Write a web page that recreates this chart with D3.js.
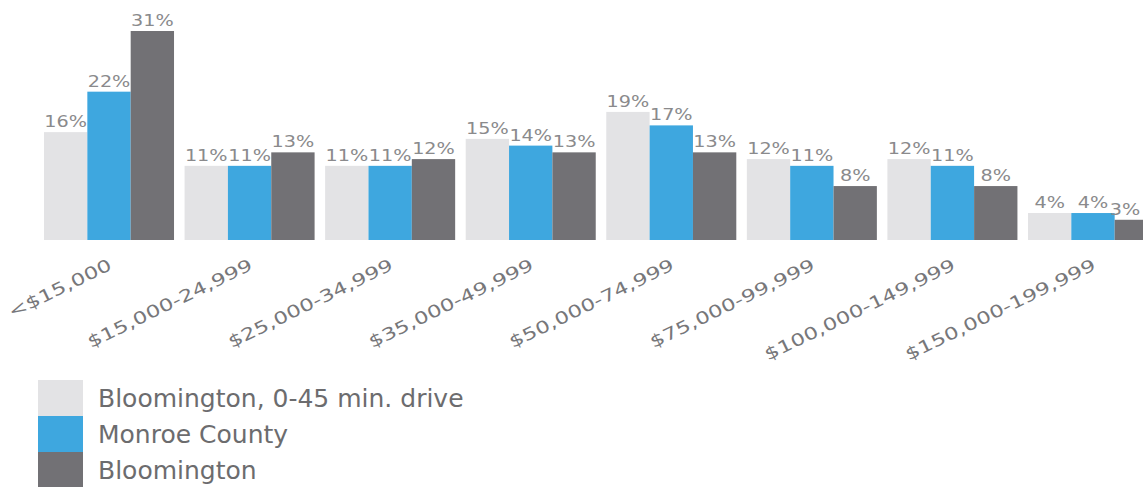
<!DOCTYPE html>
<html>
<head>
<meta charset="utf-8">
<script src="https://cdn.jsdelivr.net/npm/d3@7"></script>
<style>
  html, body { margin: 0; padding: 0; background: #ffffff; }
  svg { display: block; }
  text { font-family: "DejaVu Sans", sans-serif; }
</style>
</head>
<body>
<svg id="chart" width="1143" height="487"></svg>
<script>
// Household income brackets
const categories = [
  "<$15,000", "$15,000-24,999", "$25,000-34,999", "$35,000-49,999",
  "$50,000-74,999", "$75,000-99,999", "$100,000-149,999", "$150,000-199,999"
];

// Series names (legend order)
const seriesNames = ["Bloomington, 0-45 min. drive", "Monroe County", "Bloomington"];

// Share of households (%) per bracket
const drive45 = [16, 11, 11, 15, 19, 12, 12, 4];
const monroe = [22, 11, 11, 14, 17, 11, 11, 4];
const bloomington = [31, 13, 12, 13, 13, 8, 8, 3];

const seriesValues = [drive45, monroe, bloomington];
const colors = ["#e3e3e5", "#3ea7df", "#727175"];

const width = 1143;
const svg = d3.select("#chart");

const x = d3.scaleBand()
  .domain(categories)
  .range([44, 1158])
  .paddingInner(0.075)
  .paddingOuter(0);

const xs = d3.scaleBand()
  .domain(seriesNames)
  .range([0, x.bandwidth()])
  .padding(0);

const y = d3.scaleLinear().domain([0, 31]).range([240, 31]);

const color = d3.scaleOrdinal().domain(seriesNames).range(colors);

// Flatten into one record per bar
const rows = [];
categories.forEach((c, i) => {
  seriesNames.forEach((s, j) => {
    rows.push({ cat: c, series: s, value: seriesValues[j][i] });
  });
});

const groups = svg.append("g").attr("class", "bars");

groups.selectAll("rect")
  .data(rows)
  .join("rect")
  .attr("x", d => x(d.cat) + xs(d.series))
  .attr("y", d => y(d.value))
  .attr("width", xs.bandwidth())
  .attr("height", d => y(0) - y(d.value))
  .attr("fill", d => color(d.series));

// Value labels above each bar (kept inside the right edge)
svg.append("g").attr("class", "values")
  .selectAll("text")
  .data(rows)
  .join("text")
  .attr("transform", d => {
    const cx = Math.min(x(d.cat) + xs(d.series) + xs.bandwidth() / 2, width - 18);
    return `translate(${cx},${y(d.value) - 5}) scale(1.2,1)`;
  })
  .attr("text-anchor", "middle")
  .attr("font-size", 16)
  .attr("fill", "#8a8a8c")
  .text(d => d.value + "%");

// Category axis with slanted labels
const axis = svg.append("g")
  .attr("transform", `translate(0,${y(0)})`)
  .call(d3.axisBottom(x).tickSize(0));

axis.select(".domain").remove();
axis.attr("font-family", null).attr("font-size", null);
axis.selectAll(".tick text")
  .attr("y", 0)
  .attr("dy", null)
  .attr("text-anchor", "end")
  .attr("font-size", 17)
  .attr("fill", "#77777a")
  .attr("transform", "translate(4,29) rotate(-26) scale(1.33,1)");

// Legend
const legend = svg.append("g").attr("class", "legend")
  .selectAll("g")
  .data(seriesNames)
  .join("g")
  .attr("transform", (d, i) => `translate(38,${380 + i * 36})`);

legend.append("rect")
  .attr("width", 45)
  .attr("height", 36)
  .attr("fill", d => color(d));

legend.append("text")
  .attr("x", 60)
  .attr("y", 27)
  .attr("font-size", 25)
  .attr("fill", "#6c6c6e")
  .text(d => d);
</script>
</body>
</html>
